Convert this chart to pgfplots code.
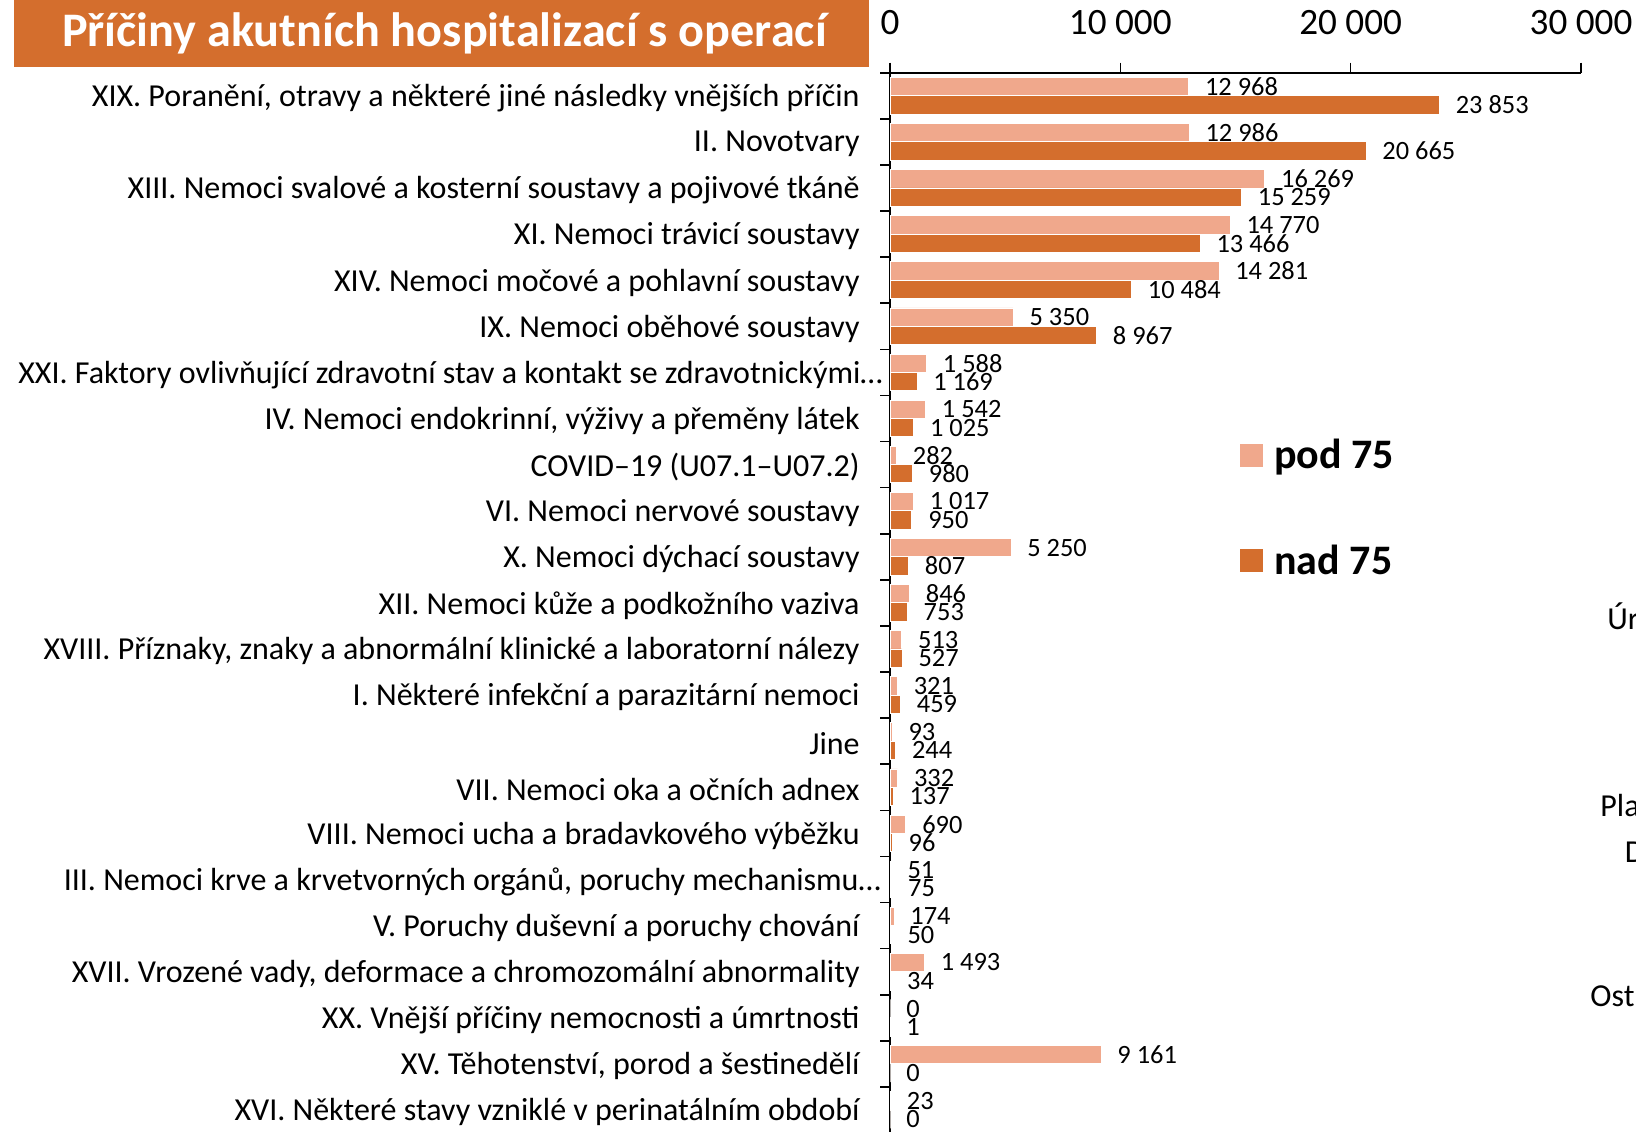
\documentclass[border=0pt]{standalone}
\usepackage{pgfplots}
\pgfplotsset{compat=1.18}
\usepackage{pgfplotstable}
\usepackage{fontspec}
\setmainfont{Carlito}
\definecolor{pod}{RGB}{240,168,140}
\definecolor{nad}{RGB}{212,110,45}

\pgfplotstableread{
idx pod nad
0 12968 23853
1 12986 20665
2 16269 15259
3 14770 13466
4 14281 10484
5 5350 8967
6 1588 1169
7 1542 1025
8 282 980
9 1017 950
10 5250 807
11 846 753
12 513 527
13 321 459
14 93 244
15 332 137
16 690 96
17 51 75
18 174 50
19 1493 34
20 0 1
21 9161 0
22 23 0
}\datatable

\pgfkeys{/pgf/number format/.cd, fixed, precision=0, 1000 sep={\ }, assume math mode=true}

\begin{document}
\begin{tikzpicture}
\useasboundingbox (0,0) rectangle (818pt,565.5pt);
\fill[nad] (6.8pt,532pt) rectangle (434.5pt,565.5pt);
\node[anchor=base west, inner sep=0pt, text=white, font=\bfseries\fontsize{24.1}{28}\selectfont] at (30.8pt,542pt) {Příčiny akutních hospitalizací s operací};
\begin{axis}[
  at={(445pt,529.15pt)}, anchor=north west,
  scale only axis, width=345.5pt, height=530.15pt,
  xmin=0, xmax=30000, ymin=-0.5, ymax=22.5, y dir=reverse,
  axis x line*=top, axis y line*=left,
  axis line style={black, line width=0.8pt},
  tick align=outside,
  major tick length=5pt, minor tick length=5pt,
  xtick={0,10000,20000,30000},
  scaled x ticks=false,
  xticklabel style={font=\fontsize{18.6}{21}\selectfont, inner sep=0pt, yshift=14pt},
  ytick={0,...,22},
  minor ytick={-0.5,0.5,...,22.5},
  major y tick style={draw=none},
  every tick/.style={black, line width=0.8pt},
  yticklabel style={font=\fontsize{16}{19}\selectfont, anchor=east, inner sep=0pt, xshift=-10pt, yshift=-1.2pt},
  yticklabels={
    {XIX. Poranění, otravy a některé jiné následky vnějších příčin},
    {II. Novotvary},
    {XIII. Nemoci svalové a kosterní soustavy a pojivové tkáně},
    {XI. Nemoci trávicí soustavy},
    {XIV. Nemoci močové a pohlavní soustavy},
    {IX. Nemoci oběhové soustavy},
    {XXI. Faktory ovlivňující zdravotní stav a kontakt se zdravotnickými…\kern-11.5pt},
    {IV. Nemoci endokrinní, výživy a přeměny látek},
    {COVID–19 (U07.1–U07.2)},
    {VI. Nemoci nervové soustavy},
    {X. Nemoci dýchací soustavy},
    {XII. Nemoci kůže a podkožního vaziva},
    {XVIII. Příznaky, znaky a abnormální klinické a laboratorní nálezy},
    {I. Některé infekční a parazitární nemoci},
    {Jine},
    {VII. Nemoci oka a očních adnex},
    {VIII. Nemoci ucha a bradavkového výběžku},
    {III. Nemoci krve a krvetvorných orgánů, poruchy mechanismu…\kern-10.5pt},
    {V. Poruchy duševní a poruchy chování},
    {XVII. Vrozené vady, deformace a chromozomální abnormality},
    {XX. Vnější příčiny nemocnosti a úmrtnosti},
    {XV. Těhotenství, porod a šestinedělí},
    {XVI. Některé stavy vzniklé v perinatálním období}},
  xbar, bar width=0.397,
  point meta=x,
  nodes near coords,
  nodes near coords style={font=\fontsize{13.2}{15}\selectfont, anchor=west, inner sep=0pt, xshift=8pt, text=black},
  legend cell align=left,
  legend style={at={(axis cs:15195,7.35)}, anchor=north west, draw=none, fill=none,
    font=\bfseries\fontsize{21}{24}\selectfont, row sep=32.6pt, inner sep=0pt,
    /tikz/every odd column/.style={column sep=3.5pt}},
  sq/.style={legend image code/.code={\fill[##1, draw=none] (0pt,-5.75pt) rectangle (11.5pt,5.75pt);}},
]
\addplot[fill=pod, draw=white, line width=0.4pt, bar shift=-0.1985, sq] table[x=pod, y=idx] {\datatable};
\addlegendentry{pod 75}
\addplot[fill=nad, draw=white, line width=0.4pt, bar shift=0.1985, sq] table[x=nad, y=idx] {\datatable};
\addlegendentry{nad 75}
\end{axis}
\node[anchor=west, inner sep=0pt, font=\fontsize{16}{19}\selectfont] at (803.5pt,257.5pt) {Úr};
\node[anchor=west, inner sep=0pt, font=\fontsize{16}{19}\selectfont] at (800pt,162.75pt) {Pla};
\node[anchor=west, inner sep=0pt, font=\fontsize{16}{19}\selectfont] at (812.25pt,139.25pt) {D};
\node[anchor=west, inner sep=0pt, font=\fontsize{16}{19}\selectfont] at (795pt,67.2pt) {Ost};
\end{tikzpicture}
\end{document}
